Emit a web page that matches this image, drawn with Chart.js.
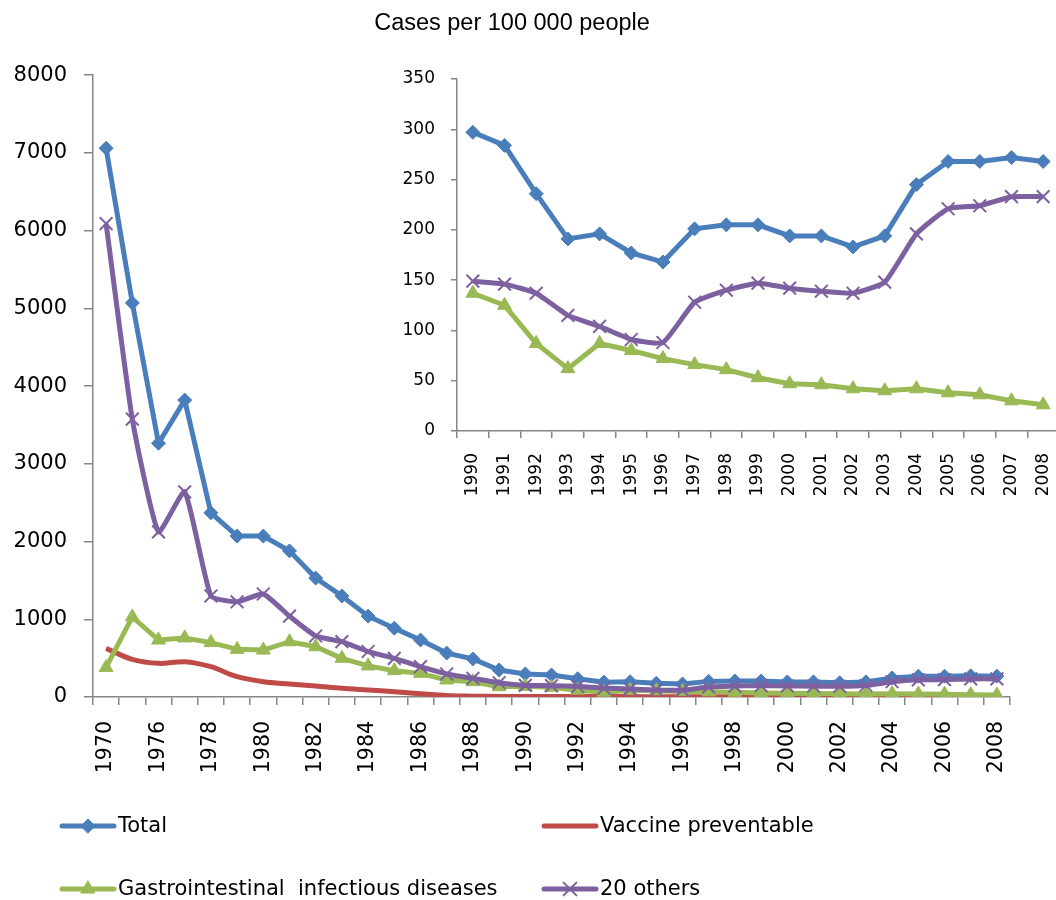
<!DOCTYPE html>
<html>
<head>
<meta charset="utf-8">
<script src="https://cdn.jsdelivr.net/npm/chart.js"></script>
<style>
  html, body { margin: 0; padding: 0; background: #fff; overflow: hidden; }
  #wrap { position: relative; width: 1056px; height: 900px; overflow: hidden; }
  #main { position: absolute; left: 0; top: 0; }
  #inset { position: absolute; left: 380px; top: 60px; }
</style>
</head>
<body>
<div id="wrap">
  <canvas id="main" width="1056" height="900"></canvas>
  <canvas id="inset" width="690" height="450"></canvas>
</div>
<script>
// values, cases per 100 000 people
const years = ['1970', '1975', '1976', '1977', '1978', '1979', '1980', '1981', '1982', '1983',
  '1984', '1985', '1986', '1987', '1988', '1989', '1990', '1991', '1992', '1993', '1994',
  '1995', '1996', '1997', '1998', '1999', '2000', '2001', '2002', '2003', '2004', '2005',
  '2006', '2007', '2008'];
const total = [7060, 5070, 3265, 3820, 2370, 2070, 2070, 1880, 1530, 1300, 1040, 885, 733, 565,
  490, 347, 297, 284, 236, 191, 196, 177, 168, 201, 205, 205, 194, 194, 183, 194, 245, 268,
  268, 272, 268];
const vaccine = [626, 484, 433, 454, 390, 261, 197, 167, 141, 112, 90, 68, 42, 18, 11, 8, 7,
  6, 6, 5, 5, 4, 4, 4, 4, 3, 3, 3, 3, 3, 3, 3, 3, 3, 3];
const gastro = [380, 1030, 733, 760, 700, 613, 604, 711, 647, 498, 400, 339, 304, 219, 197,
  133, 137, 125, 87, 62, 87, 80, 72, 66, 61, 53, 47, 46, 42, 40, 42, 38, 36, 30, 26];
const others = [6090, 3575, 2125, 2640, 1300, 1225, 1325, 1040, 785, 712, 585, 497, 390, 296,
  240, 184, 149, 146, 137, 115, 104, 91, 88, 128, 140, 147, 142, 139, 137, 148, 196, 221,
  224, 233, 233];
const mainTicks = [0, 1000, 2000, 3000, 4000, 5000, 6000, 7000, 8000];
const insetTicks = [0, 50, 100, 150, 200, 250, 300, 350];
const insetFrom = years.indexOf('1990');

const BLUE = '#4a7ebb', RED = '#be4b48', GREEN = '#98b954', PURPLE = '#7d60a0';
const AXIS = '#868686';
const TICK_FONT = 'DejaVu Sans';

function series(label, data, color, style, radius, extra) {
  return Object.assign({
    label, data,
    borderColor: color, backgroundColor: color,
    borderWidth: 5,
    pointStyle: style, pointRadius: radius, pointHoverRadius: radius,
    pointBackgroundColor: color, pointBorderColor: color,
    pointBorderWidth: style === 'crossRot' ? 2 : 1,
    tension: 0
  }, extra || {});
}

// keep the plot edges where the picture has them
function fixX(height) {
  return s => { s.height = height; s.paddingLeft = 0; s.paddingRight = 0; };
}
function fixY(width) {
  return s => { s.width = width; s.paddingTop = 0; s.paddingBottom = 0; };
}

// two-column legend under the main chart
const gridLegend = {
  id: 'gridLegend',
  afterDraw(chart) {
    const ctx = chart.ctx;
    const slots = [[60, 826], [542, 826], [60, 889], [542, 889]];
    chart.data.datasets.forEach((ds, i) => {
      const [x, y] = slots[i];
      ctx.save();
      ctx.strokeStyle = ds.borderColor;
      ctx.lineWidth = 5;
      ctx.lineCap = 'round';
      ctx.beginPath();
      ctx.moveTo(x + 2, y);
      ctx.lineTo(x + 54, y);
      ctx.stroke();
      if (ds.pointRadius > 0) {
        ctx.fillStyle = ds.pointBackgroundColor;
        ctx.strokeStyle = ds.pointBorderColor;
        ctx.lineWidth = ds.pointBorderWidth;
        Chart.helpers.drawPoint(ctx, {
          pointStyle: ds.pointStyle, radius: ds.pointRadius,
          borderWidth: ds.pointBorderWidth, rotation: 0
        }, x + 28, y);
      }
      ctx.fillStyle = '#000';
      ctx.font = '21px "DejaVu Sans"';
      ctx.textBaseline = 'middle';
      ctx.fillText(ds.label, x + 58, y + 1);
      ctx.restore();
    });
  }
};

new Chart(document.getElementById('main'), {
  type: 'line',
  data: {
    labels: years,
    datasets: [
      series('Total', total, BLUE, 'rectRot', 7, { order: 3 }),
      series('Vaccine preventable', vaccine, RED, 'circle', 0, { order: 2, tension: 0.35 }),
      series('Gastrointestinal  infectious diseases', gastro, GREEN, 'triangle', 8, { order: 1 }),
      series('20 others', others, PURPLE, 'crossRot', 9, { order: 0, tension: 0.15 })
    ]
  },
  options: {
    responsive: false,
    animation: false,
    devicePixelRatio: 1,
    layout: { padding: { left: 14, right: 46, top: 0, bottom: 0 } },
    plugins: {
      legend: { display: false },
      tooltip: { enabled: false },
      title: {
        display: true,
        text: 'Cases per 100 000 people',
        color: '#000',
        font: { family: 'Liberation Sans', size: 23.5, weight: 'normal' },
        padding: { top: 9, bottom: 38 }
      }
    },
    scales: {
      x: {
        offset: true,
        grid: { drawOnChartArea: false, offset: true, tickLength: 8, color: AXIS, lineWidth: 1.5 },
        border: { color: AXIS, width: 1.5 },
        ticks: {
          autoSkip: false, minRotation: 90, maxRotation: 90, padding: 16,
          color: '#000', font: { family: TICK_FONT, size: 20.5 },
          callback: (v, i) => (i % 2 === 0 ? years[i] : '')
        },
        afterFit: fixX(203)
      },
      y: {
        min: 0, max: 8000,
        afterBuildTicks: s => { s.ticks = mainTicks.map(v => ({ value: v })); },
        grid: { drawOnChartArea: false, tickLength: 9, color: AXIS, lineWidth: 1.5 },
        border: { color: AXIS, width: 1.5 },
        ticks: {
          padding: 17, color: '#000', font: { family: TICK_FONT, size: 21 },
          callback: v => String(v)
        },
        afterFit: fixY(79)
      }
    }
  },
  plugins: [gridLegend]
});

new Chart(document.getElementById('inset'), {
  type: 'line',
  data: {
    labels: years.slice(insetFrom),
    datasets: [
      series('Total', total.slice(insetFrom), BLUE, 'rectRot', 7, { order: 3 }),
      series('Gastrointestinal  infectious diseases', gastro.slice(insetFrom), GREEN, 'triangle', 8, { order: 1 }),
      series('20 others', others.slice(insetFrom), PURPLE, 'crossRot', 9, { order: 0, tension: 0.15 })
    ]
  },
  options: {
    responsive: false,
    animation: false,
    devicePixelRatio: 1,
    layout: { padding: { left: 0, right: 4, top: 19, bottom: 0 } },
    plugins: { legend: { display: false }, tooltip: { enabled: false } },
    scales: {
      x: {
        offset: true,
        grid: { drawOnChartArea: false, offset: true, tickLength: 7, color: AXIS, lineWidth: 1.5 },
        border: { color: AXIS, width: 1.5 },
        ticks: {
          autoSkip: false, minRotation: 90, maxRotation: 90, padding: 15,
          color: '#000', font: { family: TICK_FONT, size: 17 }
        },
        afterFit: fixX(79)
      },
      y: {
        min: 0, max: 350,
        afterBuildTicks: s => { s.ticks = insetTicks.map(v => ({ value: v })); },
        grid: { drawOnChartArea: false, tickLength: 6, color: AXIS, lineWidth: 1.5 },
        border: { color: AXIS, width: 1.5 },
        ticks: { padding: 16, color: '#000', font: { family: TICK_FONT, size: 17 } },
        afterFit: fixY(77)
      }
    }
  }
});
</script>
</body>
</html>
